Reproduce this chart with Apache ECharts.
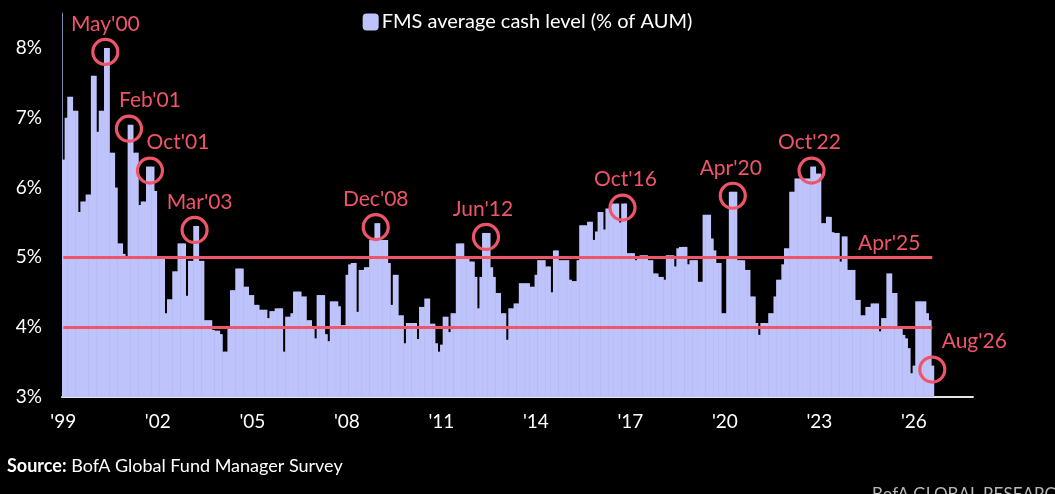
<!DOCTYPE html>
<html lang="en">
  <head>
    <meta charset="UTF-8" />
    <title>FMS average cash level</title>
    <script src="https://cdn.jsdelivr.net/npm/echarts@6/dist/echarts.min.js"></script>
    <style>
      html, body { margin: 0; padding: 0; background: #000; }
    </style>
  </head>
  <body>
    <div id="main" style="width: 1055px;height:494px;"></div>
    <script type="text/javascript">
      // monthly FMS cash level, % of AUM, one row per year (Jan..Dec)
      var cashLevel = [
        6.4, 7.0, 7.3, 7.3, 7.1, 7.1, 5.65, 5.8, 5.8, 5.9, 5.9, 7.6, // 1999
        7.6, 6.8, 7.1, 7.1, 8.0, 8.0, 6.5, 6.5, 6.0, 5.2, 5.2, 5.05, // 2000
        5.0, 6.9, 6.9, 6.5, 6.5, 5.75, 5.8, 5.8, 6.3, 6.3, 6.3, 5.95, // 2001
        5.0, 5.0, 5.0, 4.2, 4.4, 4.4, 4.8, 4.8, 5.2, 5.2, 5.2, 4.45, // 2002
        4.95, 4.95, 5.45, 5.45, 4.95, 4.95, 4.1, 4.1, 4.1, 3.96, 3.95, 3.95, // 2003
        3.9, 3.65, 3.65, 4.0, 4.53, 4.53, 4.84, 4.84, 4.84, 4.58, 4.58, 4.46, // 2004
        4.46, 4.32, 4.32, 4.25, 4.25, 4.25, 4.13, 4.23, 4.23, 4.27, 4.27, 4.27, // 2005
        3.65, 4.15, 4.15, 4.2, 4.51, 4.51, 4.51, 4.44, 4.44, 4.1, 4.1, 4.0, // 2006
        3.84, 4.46, 4.46, 4.46, 3.9, 3.8, 4.37, 4.37, 4.37, 4.3, 4.03, 4.03, // 2007
        4.75, 4.9, 4.92, 4.92, 4.22, 4.82, 4.82, 4.86, 4.86, 5.25, 5.25, 5.49, // 2008
        5.49, 5.25, 5.25, 5.25, 4.92, 4.32, 4.75, 4.75, 4.17, 4.17, 3.77, 4.06, // 2009
        4.06, 4.06, 4.06, 3.83, 4.29, 4.29, 4.41, 4.41, 4.05, 4.05, 3.77, 3.65, // 2010
        3.75, 4.15, 4.15, 3.93, 4.2, 4.2, 5.2, 5.2, 5.2, 5.01, 5.01, 4.94, // 2011
        4.94, 4.72, 4.27, 4.72, 5.35, 5.35, 5.35, 4.86, 4.72, 4.49, 4.49, 4.2, // 2012
        4.2, 3.82, 4.27, 4.27, 4.34, 4.34, 4.63, 4.63, 4.63, 4.63, 4.58, 4.58, // 2013
        4.75, 4.96, 4.96, 4.96, 4.87, 4.87, 4.5, 5.1, 5.1, 4.96, 4.96, 4.96, // 2014
        4.96, 4.68, 4.66, 4.66, 4.96, 5.46, 5.46, 5.46, 5.51, 5.51, 5.25, 5.37, // 2015
        5.65, 5.65, 5.4, 5.7, 5.7, 5.77, 5.77, 5.77, 5.5, 5.77, 5.77, 5.06, // 2016
        5.06, 5.06, 4.96, 4.99, 5.03, 5.03, 5.03, 4.96, 4.96, 4.77, 4.77, 4.72, // 2017
        4.72, 4.68, 5.03, 5.03, 5.03, 4.87, 5.13, 5.15, 5.15, 5.15, 4.9, 4.96, // 2018
        4.96, 4.96, 4.65, 4.65, 5.61, 5.61, 5.61, 5.27, 5.1, 4.92, 4.92, 4.2, // 2019
        4.2, 5.0, 5.94, 5.94, 5.94, 4.96, 4.96, 4.96, 4.82, 4.82, 4.44, 4.44, // 2020
        4.06, 3.89, 4.06, 4.06, 4.06, 4.2, 4.2, 4.44, 4.68, 4.68, 4.9, 5.13, // 2021
        5.13, 5.94, 5.94, 6.13, 6.13, 6.13, 6.13, 6.13, 6.13, 6.3, 6.3, 6.2, // 2022
        6.2, 5.49, 5.49, 5.58, 5.58, 5.36, 5.35, 5.35, 4.94, 5.3, 5.3, 4.82, // 2023
        4.82, 4.82, 4.39, 4.39, 4.17, 4.17, 4.29, 4.29, 4.34, 4.34, 4.34, 3.94, // 2024
        4.13, 4.13, 4.77, 4.77, 4.49, 4.49, 3.98, 3.98, 3.89, 3.84, 3.7, 3.34, // 2025
        3.45, 4.37, 4.37, 4.37, 4.37, 4.2, 4.1, 3.45 // 2026 (to Aug)
      ];
      var monthNames = ["Jan", "Feb", "Mar", "Apr", "May", "Jun", "Jul", "Aug", "Sep", "Oct", "Nov", "Dec"];
      var firstYear = 1999;
      var axisMonths = 347; // Jan'99 .. Nov'27, axis runs past the last reading
      var peakLabels = ["May'00", "Feb'01", "Oct'01", "Mar'03", "Dec'08", "Jun'12", "Oct'16", "Apr'20", "Oct'22", "Aug'26"];
      var thresholds = [5, 4];
      var thresholdLabels = ["Apr'25", ""];

      var categories = [];
      for (var i = 0; i < axisMonths; i++) {
        var yr = firstYear + Math.floor(i / 12);
        categories.push(monthNames[i % 12] + "'" + String(yr).slice(2));
      }
      var barData = cashLevel.map(function (v, i) { return [i, v]; });

      var RED = "#ee5569";
      var LAVENDER = "#bec4fb";
      var FONT = "Lato";
      var Y_MIN = 3;

      // label nudges (px) so text sits where the original put it
      var labelShift = {
        "May'00": 0, "Feb'01": 21, "Oct'01": 28, "Mar'03": 5, "Dec'08": 0,
        "Jun'12": -3, "Oct'16": 3, "Apr'20": -2, "Oct'22": -2, "Aug'26": 42
      };

      var peakPoints = peakLabels.map(function (name) {
        var idx = categories.indexOf(name);
        return {
          name: name,
          coord: [idx, cashLevel[idx]],
          label: { offset: [labelShift[name], -28] }
        };
      });

      var lines = thresholds.map(function (t, k) {
        return [
          { coord: [0, t] },
          {
            coord: [cashLevel.length - 1, t],
            label: {
              show: !!thresholdLabels[k],
              formatter: thresholdLabels[k],
              position: "insideEndTop",
              distance: [12, 4],
              color: RED,
              fontSize: 21,
              fontFamily: FONT
            }
          }
        ];
      });

      // one rect per month, a hair wider than the band so neighbours don't leave seams
      function renderBar(params, api) {
        var idx = api.value(0);
        var top = api.coord([idx, api.value(1)]);
        var base = api.coord([idx, Y_MIN]);
        var w = api.size([1, 0])[0];
        return {
          type: "rect",
          shape: { x: top[0] - w / 2, y: top[1], width: w + 0.6, height: base[1] - top[1] },
          style: { fill: LAVENDER }
        };
      }

      var myChart = echarts.init(document.getElementById("main"));
      myChart.setOption({
        backgroundColor: "#000",
        animation: false,
        legend: {
          top: 7,
          left: "center",
          icon: "roundRect",
          itemWidth: 16,
          itemHeight: 17,
          itemGap: 4,
          textStyle: { color: "#fff", fontSize: 20, fontFamily: FONT, padding: [0, 0, 0, -2] },
          data: ["FMS average cash level (% of AUM)"]
        },
        grid: { left: 62, right: 82, top: 13, bottom: 97 },
        xAxis: {
          type: "category",
          data: categories,
          boundaryGap: true,
          axisLine: { lineStyle: { color: "#e6e6e6", width: 2 } },
          axisTick: { show: false },
          axisLabel: {
            color: "#fff",
            fontSize: 19,
            fontFamily: FONT,
            margin: 15,
            interval: function (index) { return index % 36 === 0; },
            formatter: function (v) { return v.slice(3); }
          }
        },
        yAxis: {
          type: "value",
          min: Y_MIN,
          max: 8.5,
          interval: 1,
          axisLine: { show: true, lineStyle: { color: "#8288ad", width: 1 } },
          axisTick: { show: false },
          splitLine: { show: false },
          axisLabel: {
            color: "#fff",
            fontSize: 19,
            fontFamily: FONT,
            margin: 20,
            formatter: function (v) { return v === 8.5 ? "" : v + "%"; }
          }
        },
        series: [
          {
            name: "FMS average cash level (% of AUM)",
            type: "custom",
            renderItem: renderBar,
            data: barData,
            encode: { x: 0, y: 1 },
            itemStyle: { color: LAVENDER },
            z: 2,
            markLine: {
              silent: true,
              symbol: ["none", "none"],
              lineStyle: { color: RED, width: 3, type: "solid" },
              z: 5,
              data: lines
            },
            markPoint: {
              silent: true,
              symbol: "circle",
              symbolSize: 25,
              symbolOffset: [0, 4],
              z: 6,
              itemStyle: { color: "rgba(0,0,0,0)", borderColor: RED, borderWidth: 3.2 },
              label: {
                show: true,
                position: "inside",
                formatter: "{b}",
                color: RED,
                fontSize: 21,
                fontFamily: FONT
              },
              data: peakPoints
            }
          }
        ],
        graphic: [
          {
            type: "text",
            left: 7,
            top: 457,
            style: {
              text: "{b|Source:} BofA Global Fund Manager Survey",
              rich: { b: { fontWeight: "bold", fontSize: 18, fill: "#fff", fontFamily: FONT } },
              fill: "#fff",
              fontSize: 18,
              fontFamily: FONT
            }
          },
          {
            type: "text",
            left: 872,
            top: 486,
            style: {
              text: "BofA GLOBAL RESEARCH",
              fill: "#b8b8b8",
              fontSize: 17,
              fontFamily: FONT
            }
          }
        ]
      });
    </script>
  </body>
</html>
